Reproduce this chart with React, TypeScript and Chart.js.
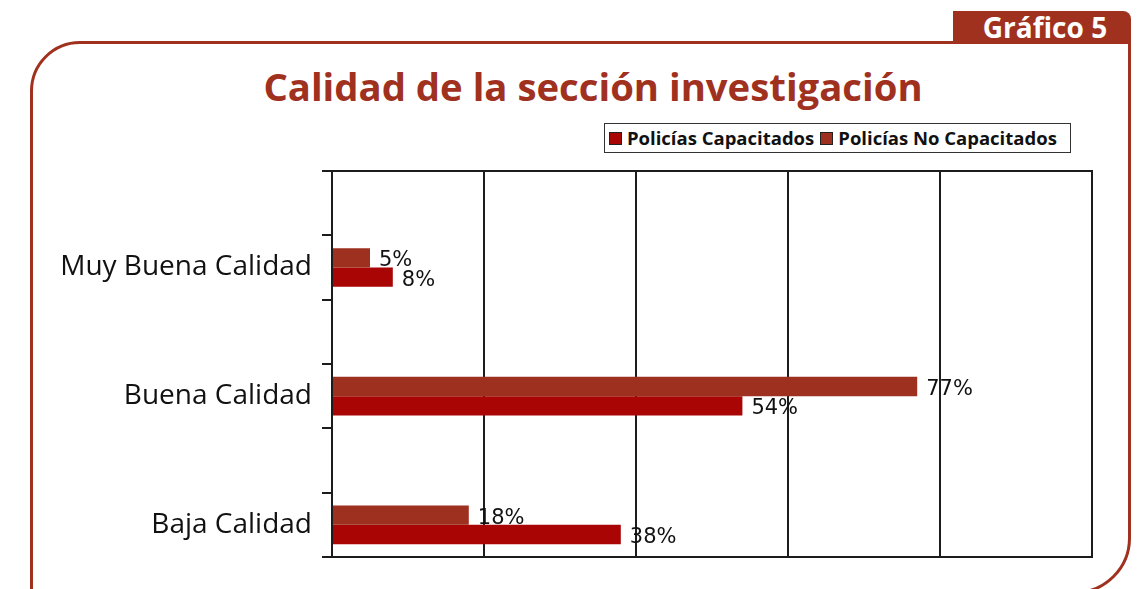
import React, { useEffect, useRef } from "react";
import { Chart, registerables } from "chart.js";

Chart.register(...registerables);

// ---- Data ----
const categories = ["Muy Buena Calidad", "Buena Calidad", "Baja Calidad"];
const noCapacitados = [5, 77, 18];
const capacitados = [8, 54, 38];
const seriesNames = ["Policías Capacitados", "Policías No Capacitados"];
const xTicks = [0, 20, 40, 60, 80, 100];

const TITLE = "Calidad de la sección investigación";
const TAB = "Gráfico 5";

const FRAME = "#A0311F";
const BROWN = "#9D301E";
const RED = "#AA0505";
const LINE = "#1c1c1c";

// each category is preceded by a blank spacer slot, as in the original sheet
const labels = categories.flatMap((c) => ["", c]);
const padded = (arr: number[]) => arr.flatMap((v) => [null, v]);

const dataLabelPlugin = {
  id: "dataLabels",
  afterDatasetsDraw(chart: any) {
    const ctx = chart.ctx;
    ctx.save();
    ctx.font = '21px "DejaVu Sans"';
    ctx.fillStyle = "#111";
    ctx.textAlign = "left";
    ctx.textBaseline = "middle";
    chart.data.datasets.forEach((ds: any, i: number) => {
      const meta = chart.getDatasetMeta(i);
      meta.data.forEach((el: any, j: number) => {
        const v = ds.data[j];
        if (v === null || v === undefined) return;
        ctx.fillText(`${v}%`, el.x + 9, el.y + 3);
      });
    });
    ctx.restore();
  },
};

const topLinePlugin = {
  id: "topLine",
  afterDraw(chart: any) {
    const { ctx, chartArea } = chart;
    ctx.save();
    ctx.strokeStyle = LINE;
    ctx.lineWidth = 2;
    ctx.beginPath();
    ctx.moveTo(chartArea.left, chartArea.top);
    ctx.lineTo(chartArea.right + 1, chartArea.top);
    ctx.stroke();
    ctx.restore();
  },
};

export default function App() {
  const canvasRef = useRef<HTMLCanvasElement | null>(null);

  useEffect(() => {
    if (!canvasRef.current) return;
    const chart = new Chart(canvasRef.current, {
      type: "bar",
      data: {
        labels,
        datasets: [
          {
            label: seriesNames[1],
            data: padded(noCapacitados),
            backgroundColor: BROWN,
            borderWidth: 0,
          },
          {
            label: seriesNames[0],
            data: padded(capacitados),
            backgroundColor: RED,
            borderWidth: 0,
          },
        ],
      },
      options: {
        indexAxis: "y",
        responsive: false,
        animation: false,
        devicePixelRatio: 1,
        datasets: {
          bar: { categoryPercentage: 0.6, barPercentage: 1.0 },
        },
        layout: { padding: { left: 0, right: 46, top: 171, bottom: 32 } },
        plugins: {
          legend: { display: false },
          title: { display: false },
          tooltip: { enabled: false },
        },
        scales: {
          x: {
            type: "linear",
            min: xTicks[0],
            max: xTicks[xTicks.length - 1],
            afterBuildTicks: (scale: any) => {
              scale.ticks = xTicks.map((v) => ({ value: v }));
            },
            ticks: { display: false },
            grid: { color: LINE, lineWidth: 2, drawTicks: false },
            border: { display: true, color: LINE, width: 2 },
          },
          y: {
            type: "category",
            afterFit: (scale: any) => {
              scale.width = 332;
            },
            ticks: {
              autoSkip: false,
              padding: 10,
              color: "#111",
              font: { family: '"Open Sans"', size: 28 },
            },
            grid: {
              offset: true,
              drawOnChartArea: false,
              drawTicks: true,
              tickLength: 10,
              color: LINE,
              lineWidth: 2,
            },
            border: { display: true, color: LINE, width: 2 },
          },
        },
      },
      plugins: [dataLabelPlugin, topLinePlugin],
    });
    return () => chart.destroy();
  }, []);

  const legendItem = (name: string, color: string, ml: number) => (
    <div style={{ display: "flex", alignItems: "center", marginLeft: ml }}>
      <div
        style={{
          width: 11,
          height: 11,
          background: color,
          border: "1px solid #222",
          marginRight: 5,
        }}
      />
      <span
        style={{
          fontFamily: '"Open Sans"',
          fontWeight: 700,
          fontSize: 18.5,
          color: "#111",
          whiteSpace: "nowrap",
          lineHeight: "28px",
        }}
      >
        {name}
      </span>
    </div>
  );

  return (
    <div
      style={{
        position: "absolute",
        left: 0,
        top: 0,
        width: 1138,
        height: 589,
        overflow: "hidden",
        background: "#fff",
      }}
    >
      <div
        style={{
          position: "absolute",
          left: 30,
          top: 41,
          width: 1101,
          height: 553,
          boxSizing: "border-box",
          border: `3px solid ${FRAME}`,
          borderTopLeftRadius: 50,
          borderBottomRightRadius: 56,
        }}
      />
      <div
        style={{
          position: "absolute",
          left: 953,
          top: 11,
          width: 178,
          height: 32,
          background: FRAME,
          borderTopRightRadius: 8,
          color: "#fff",
          fontFamily: '"Open Sans"',
          fontWeight: 700,
          fontSize: 28,
          lineHeight: "32px",
          textAlign: "center",
          paddingLeft: 6,
          boxSizing: "border-box",
        }}
      >
        {TAB}
      </div>
      <div
        style={{
          position: "absolute",
          left: 593,
          top: 67,
          transform: "translateX(-50%)",
          whiteSpace: "nowrap",
          color: FRAME,
          fontFamily: '"Open Sans"',
          fontWeight: 700,
          fontSize: 38.3,
          lineHeight: "39px",
        }}
      >
        {TITLE}
      </div>
      <div
        style={{
          position: "absolute",
          left: 604,
          top: 123,
          width: 467,
          height: 30,
          boxSizing: "border-box",
          border: "1px solid #333",
          display: "flex",
          alignItems: "center",
          paddingLeft: 4,
        }}
      >
        {legendItem(seriesNames[0], RED, 0)}
        {legendItem(seriesNames[1], BROWN, 6)}
      </div>
      <canvas
        ref={canvasRef}
        width={1138}
        height={589}
        style={{ position: "absolute", left: 0, top: 0, width: 1138, height: 589 }}
      />
    </div>
  );
}
